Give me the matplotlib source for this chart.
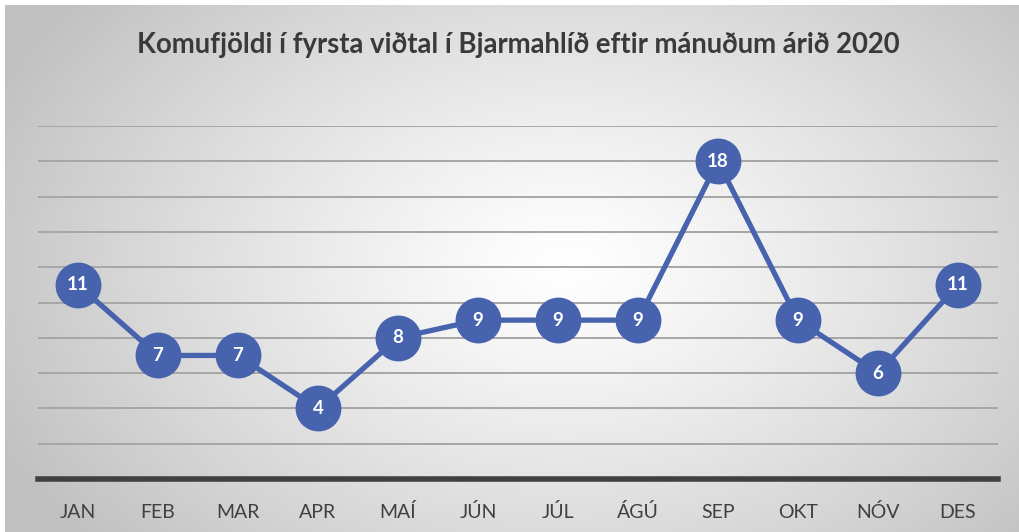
import numpy as np
import matplotlib
matplotlib.use("Agg")
import matplotlib.pyplot as plt
import matplotlib.transforms as mtransforms

months = ["JAN", "FEB", "MAR", "APR", "MAÍ", "JÚN", "JÚL", "ÁGÚ", "SEP", "OKT", "NÓV", "DES"]
values = [11, 7, 7, 4, 8, 9, 9, 9, 18, 9, 6, 11]
title = "Komufjöldi í fyrsta viðtal í Bjarmahlíð eftir mánuðum árið 2020"

W, H = 1020, 532
fig = plt.figure(figsize=(W / 100, H / 100), dpi=100)
fig.patch.set_facecolor("white")

# background radial gradient
bg = fig.add_axes([5 / W, 0, 1 - 5 / W, 1 - 5 / H])
bg.set_axis_off()
yy, xx = np.mgrid[0:527, 0:1015]
cx, cy = 560, 260
d = np.sqrt(((xx - cx) / 620.0) ** 2 + ((yy - cy) / 420.0) ** 2)
d = np.clip(d, 0, 1)
val = 1.0 - 0.24 * d ** 1.2
img = np.dstack([val, val, val])
bg.imshow(img, aspect="auto", extent=[0, 1, 0, 1], interpolation="bilinear")
bg.set_xlim(0, 1)
bg.set_ylim(0, 1)

ax = fig.add_axes([38 / W, (H - 479) / H, 960 / W, 353 / H])
ax.patch.set_alpha(0)
x = np.arange(len(months))
ax.set_xlim(-0.5, len(months) - 0.5)
ax.set_ylim(0, 20)
for g in range(2, 21, 2):
    ax.axhline(g, color="#a6a6a6", lw=1.4, zorder=1)
for s in ["top", "right", "left"]:
    ax.spines[s].set_visible(False)
ax.spines["bottom"].set_color("#404040")
ax.spines["bottom"].set_linewidth(4)
ax.spines["bottom"].set_zorder(2)
ax.set_yticks([])
ax.set_xticks(x)
ax.set_xticklabels([])
ax.tick_params(axis="x", length=0)

trans = mtransforms.blended_transform_factory(ax.transData, fig.transFigure)
for xi, m in zip(x, months):
    ax.text(xi, 1 - 518 / H, m, transform=trans, ha="center", va="baseline",
            family=["Lato", "DejaVu Sans"], fontsize=14, color="#404040")

ax.plot(x, values, color="#4763ae", lw=3.8, marker="o", markersize=32,
        markerfacecolor="#4763ae", markeredgecolor="#4763ae", zorder=3, clip_on=False)
for xi, v in zip(x, values):
    ax.text(xi, v, str(v), ha="center", va="center", color="white",
            fontsize=13.5, fontweight="bold", family=["Lato", "DejaVu Sans"], zorder=4)

fig.text(518 / W, 1 - 45 / H, title, ha="center", va="center", fontsize=19.8,
         fontweight="bold", color="#3a3a3a", family=["Lato", "DejaVu Sans"])

fig.savefig("out.png", dpi=100)
